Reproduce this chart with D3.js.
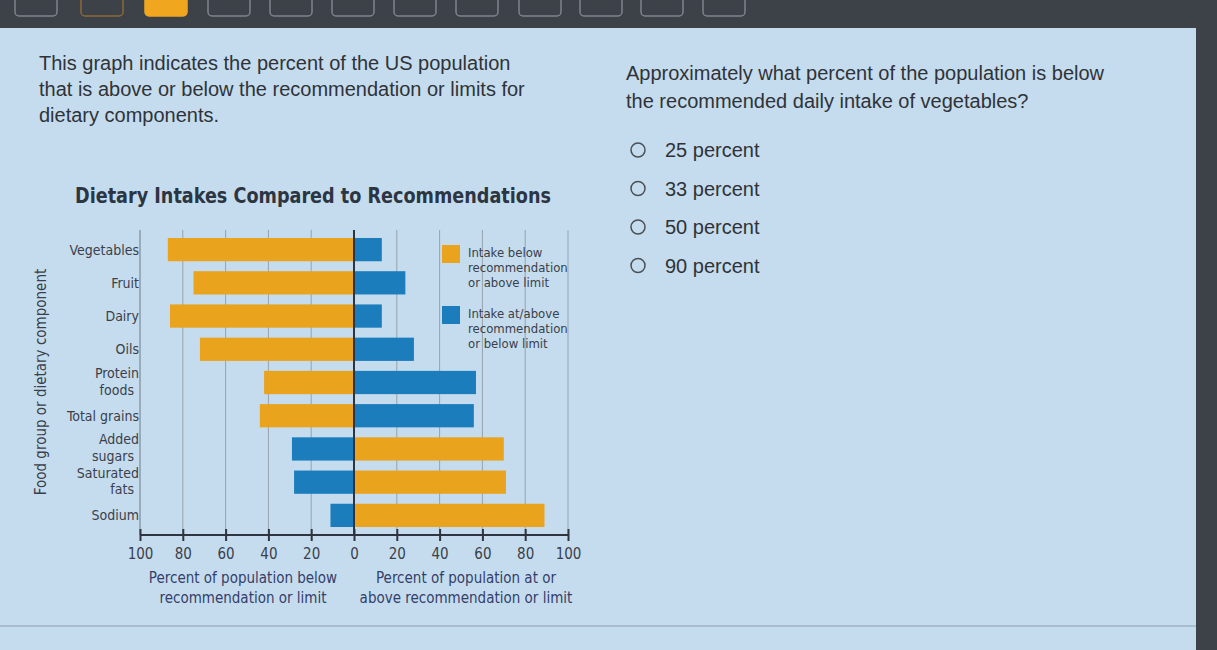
<!DOCTYPE html>
<html>
<head>
<meta charset="utf-8">
<script src="https://cdn.jsdelivr.net/npm/d3@7"></script>
<style>
  body { margin: 0; background: #3d4248; overflow: hidden; }
  svg { display: block; }
</style>
</head>
<body>
<script>
var w = 1217;
var h = 650;

// chart data
var categories = ["Vegetables", "Fruit", "Dairy", "Oils", "Protein foods", "Total grains",
                  "Added sugars", "Saturated fats", "Sodium"];
var belowPct = [87, 75, 86, 72, 42, 44, 29, 28, 11];
var atAbovePct = [13, 24, 13, 28, 57, 56, 70, 71, 89];
// "rec" = recommendation (below is bad), "limit" = limit (above is bad)
var kind = ["rec", "rec", "rec", "rec", "rec", "rec", "limit", "limit", "limit"];
var ticks = [-100, -80, -60, -40, -20, 0, 20, 40, 60, 80, 100];
var legendItems = [
  ["Intake below", "recommendation", "or above limit"],
  ["Intake at/above", "recommendation", "or below limit"]
];
var answers = ["25 percent", "33 percent", "50 percent", "90 percent"];

var orange = "#e9a31c";
var blue = "#1c7dbd";
var ink = "#3a3f4a";
var narrow = "'Liberation Sans Narrow', 'DejaVu Sans Condensed', sans-serif";

var svg = d3.select("body").append("svg")
  .attr("width", w)
  .attr("height", h);

// screen frame / page panel
svg.append("rect").attr("x", 0).attr("y", 0).attr("width", w).attr("height", h).attr("fill", "#3d4248");
svg.append("rect").attr("x", 0).attr("y", 28).attr("width", 1196).attr("height", h - 28).attr("fill", "#c5dcee");
svg.append("line").attr("x1", 0).attr("x2", 1196).attr("y1", 626).attr("y2", 626)
  .attr("stroke", "#9fb3c4").attr("stroke-width", 1.5);

// top toolbar buttons
var btnX = [15, 81, 145, 208, 270, 332, 394, 456, 519, 580, 641, 703];
svg.selectAll("rect.btn")
  .data(btnX)
  .enter()
  .append("rect")
  .attr("class", "btn")
  .attr("x", function(d) { return d; })
  .attr("y", -6)
  .attr("width", 42)
  .attr("height", 22)
  .attr("rx", 4)
  .attr("fill", function(d, i) { return i == 2 ? "#f0a61e" : "none"; })
  .attr("stroke", function(d, i) { return i == 1 ? "#8a6a3a" : (i == 2 ? "#f0a61e" : "#7d848c"); })
  .attr("stroke-width", 1.5);

// question text
var sans = "'Liberation Sans', Arial, sans-serif";
var leftText = ["This graph indicates the percent of the US population",
                "that is above or below the recommendation or limits for",
                "dietary components."];
svg.selectAll("text.intro")
  .data(leftText)
  .enter()
  .append("text")
  .attr("class", "intro")
  .attr("x", 39)
  .attr("y", function(d, i) { return 70 + i * 26; })
  .attr("font-family", sans)
  .attr("font-size", "20px")
  .attr("fill", "#2f3338")
  .text(function(d) { return d; });

var rightText = ["Approximately what percent of the population is below",
                 "the recommended daily intake of vegetables?"];
svg.selectAll("text.q")
  .data(rightText)
  .enter()
  .append("text")
  .attr("class", "q")
  .attr("x", 626)
  .attr("y", function(d, i) { return 80 + i * 28; })
  .attr("font-family", sans)
  .attr("font-size", "20px")
  .attr("fill", "#2f3338")
  .text(function(d) { return d; });

var opt = svg.selectAll("g.opt")
  .data(answers)
  .enter()
  .append("g")
  .attr("class", "opt")
  .attr("transform", function(d, i) { return "translate(0," + (150 + i * 38.5) + ")"; });
opt.append("circle").attr("cx", 638).attr("cy", 0).attr("r", 7)
  .attr("fill", "none").attr("stroke", "#4a5058").attr("stroke-width", 1.5);
opt.append("text").attr("x", 665).attr("y", 7)
  .attr("font-family", sans).attr("font-size", "20px").attr("fill", "#2f3338")
  .text(function(d) { return d; });

// chart
svg.append("text")
  .attr("x", 313)
  .attr("y", 203)
  .attr("text-anchor", "middle")
  .attr("font-family", narrow)
  .attr("font-weight", "bold")
  .attr("font-size", "22px")
  .attr("fill", "#2c3542")
  .attr("textLength", 476)
  .attr("lengthAdjust", "spacingAndGlyphs")
  .text("Dietary Intakes Compared to Recommendations");

var x = d3.scaleLinear().domain([-100, 100]).range([140, 568]);
var y = d3.scaleBand().domain(categories).range([234, 531]).paddingInner(0.3).paddingOuter(0.12);

var gridTop = 230, gridBottom = 535;

// gridlines
svg.selectAll("line.grid")
  .data(ticks)
  .enter()
  .append("line")
  .attr("class", "grid")
  .attr("x1", function(d) { return x(d); })
  .attr("x2", function(d) { return x(d); })
  .attr("y1", gridTop)
  .attr("y2", gridBottom)
  .attr("stroke", function(d) { return d == -100 ? "#6f7882" : "#98a2ac"; })
  .attr("stroke-width", 1);

var rows = categories.map(function(c, i) {
  return { cat: c, below: belowPct[i], above: atAbovePct[i], kind: kind[i] };
});

// left bars (below recommendation or limit)
svg.selectAll("rect.left")
  .data(rows)
  .enter()
  .append("rect")
  .attr("class", "left")
  .attr("x", function(d) { return x(-d.below); })
  .attr("y", function(d) { return y(d.cat); })
  .attr("width", function(d) { return x(0) - x(-d.below); })
  .attr("height", y.bandwidth())
  .attr("fill", function(d) { return d.kind == "rec" ? orange : blue; });

// right bars (at or above recommendation or limit)
svg.selectAll("rect.right")
  .data(rows)
  .enter()
  .append("rect")
  .attr("class", "right")
  .attr("x", x(0))
  .attr("y", function(d) { return y(d.cat); })
  .attr("width", function(d) { return x(d.above) - x(0); })
  .attr("height", y.bandwidth())
  .attr("fill", function(d) { return d.kind == "rec" ? blue : orange; });

// zero line over bars
svg.append("line")
  .attr("x1", x(0)).attr("x2", x(0)).attr("y1", gridTop).attr("y2", gridBottom)
  .attr("stroke", "#2e3440").attr("stroke-width", 2);

// category labels (two-line ones get a separate text per line)
var labelLines = [];
rows.forEach(function(d) {
  var parts = d.cat.split(" ");
  var cy = y(d.cat) + y.bandwidth() / 2;
  if (parts.length == 1 || d.cat == "Total grains") {
    labelLines.push({ t: d.cat, x: 139, y: cy + 5 });
  } else {
    labelLines.push({ t: parts[0], x: 139, y: cy - 4.5 });
    labelLines.push({ t: parts[1], x: 134, y: cy + 12 });
  }
});
svg.selectAll("text.cat")
  .data(labelLines)
  .enter()
  .append("text")
  .attr("class", "cat")
  .attr("text-anchor", "end")
  .attr("x", function(d) { return d.x; })
  .attr("y", function(d) { return d.y; })
  .attr("font-family", narrow)
  .attr("font-size", "14px")
  .attr("fill", ink)
  .text(function(d) { return d.t; });

// y-axis title
svg.append("text")
  .attr("transform", "translate(46,382) rotate(-90)")
  .attr("text-anchor", "middle")
  .attr("font-family", narrow)
  .attr("font-size", "15px")
  .attr("fill", ink)
  .text("Food group or dietary component");

// x axis
var xAxis = d3.axisBottom(x)
  .tickValues(ticks)
  .tickSize(6)
  .tickFormat(function(d) { return Math.abs(d); });
var ax = svg.append("g")
  .attr("transform", "translate(0," + gridBottom + ")")
  .call(xAxis);
ax.select(".domain").attr("stroke", "#2e3440").attr("stroke-width", 2).attr("d", "M" + x(-100) + ",0H" + x(100));
ax.selectAll(".tick line").attr("stroke", "#2e3440").attr("stroke-width", 2).attr("y1", -6).attr("y2", 6);
ax.selectAll(".tick text")
  .attr("y", 13)
  .attr("font-family", narrow)
  .attr("font-size", "15px")
  .attr("fill", ink);

var xTitles = [
  { cx: 243, lines: ["Percent of population below", "recommendation or limit"] },
  { cx: 466, lines: ["Percent of population at or", "above recommendation or limit"] }
];
xTitles.forEach(function(t) {
  svg.selectAll(null)
    .data(t.lines)
    .enter()
    .append("text")
    .attr("x", t.cx)
    .attr("y", function(d, i) { return 583 + i * 20; })
    .attr("text-anchor", "middle")
    .attr("font-family", narrow)
    .attr("font-size", "15px")
    .attr("fill", "#34406a")
    .text(function(d) { return d; });
});

// legend
var lg = svg.selectAll("g.legend")
  .data(legendItems)
  .enter()
  .append("g")
  .attr("class", "legend")
  .attr("transform", function(d, i) { return "translate(442," + (245 + i * 61) + ")"; });
lg.append("rect")
  .attr("width", 18)
  .attr("height", 18)
  .attr("fill", function(d, i) { return i == 0 ? orange : blue; });
lg.selectAll("text")
  .data(function(d) { return d; })
  .enter()
  .append("text")
  .attr("x", 26)
  .attr("y", function(d, i) { return 12 + i * 15; })
  .attr("font-family", narrow)
  .attr("font-size", "13px")
  .attr("fill", ink)
  .text(function(d) { return d; });
</script>
</body>
</html>
